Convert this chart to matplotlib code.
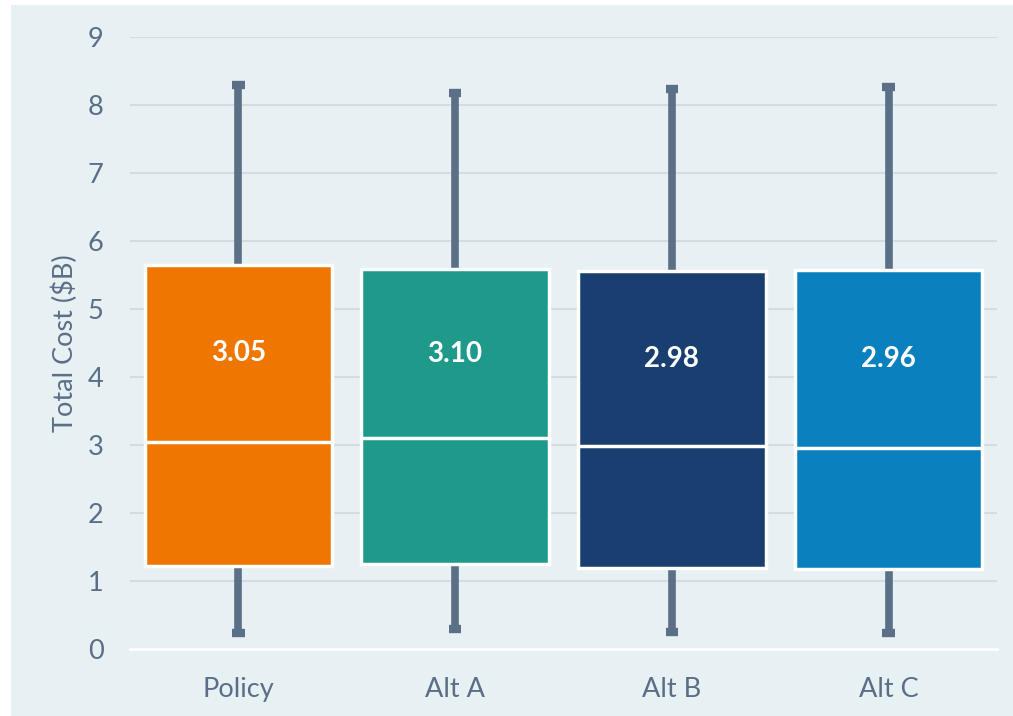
import matplotlib.pyplot as plt
from matplotlib.patches import Rectangle

# cost distribution per option, in $B
options = ['Policy', 'Alt A', 'Alt B', 'Alt C']
medians = [3.05, 3.10, 2.98, 2.96]
q1 = [1.22, 1.25, 1.19, 1.18]
q3 = [5.65, 5.59, 5.56, 5.57]
whisk_lo = [0.24, 0.29, 0.25, 0.24]
whisk_hi = [8.29, 8.18, 8.24, 8.26]
colors = ['#ee7601', '#1f998a', '#183f70', '#0b80bf']

txt = '#5a6e87'
plt.rcParams['font.family'] = ['Lato', 'DejaVu Sans']

fig = plt.figure(figsize=(10.13, 7.16), dpi=100, facecolor='white')
# light panel behind the whole chart
fig.patches.append(Rectangle((11 / 1013, 0), 1, 1 - 5 / 716, transform=fig.transFigure,
                             facecolor='#e7f0f3', edgecolor='none', zorder=-1))
ax = fig.add_axes([130 / 1013, 67 / 716, 867 / 1013, 612 / 716])
ax.set_facecolor('none')
ax.set_zorder(2)

stats = []
for i, name in enumerate(options):
    stats.append({'label': name, 'med': medians[i], 'q1': q1[i], 'q3': q3[i],
                  'whislo': whisk_lo[i], 'whishi': whisk_hi[i], 'fliers': []})

bp = ax.bxp(stats, positions=range(4), widths=0.865, patch_artist=True, showfliers=False,
            capwidths=0.058,
            boxprops=dict(edgecolor='white', linewidth=2.5),
            medianprops=dict(color='white', linewidth=2.5),
            whiskerprops=dict(color='#5b6f87', linewidth=5.5, solid_capstyle='butt'),
            capprops=dict(color='#5b6f87', linewidth=6, solid_capstyle='butt'))
for box, c in zip(bp['boxes'], colors):
    box.set_facecolor(c)
    box.set_zorder(3)
for m in bp['medians']:
    m.set_zorder(4)

# median value written in the upper half of each box
for i in range(4):
    ax.text(i, (q3[i] + medians[i]) / 2, f'{medians[i]:.2f}', ha='center', va='center',
            color='white', fontsize=20, fontweight='bold', zorder=5)

ax.set_xlim(-0.5, 3.5)
ax.set_ylim(0, 9)
ax.set_yticks(range(10))
ax.yaxis.grid(True, color='#d3dce2', linewidth=1.5)
ax.set_axisbelow(True)
for s in ['top', 'right', 'left']:
    ax.spines[s].set_visible(False)
ax.spines['bottom'].set_color('white')
ax.spines['bottom'].set_linewidth(2)
ax.spines['bottom'].set_zorder(1)
ax.tick_params(length=0, labelsize=19.5, colors=txt)
ax.tick_params(axis='y', pad=19)
ax.tick_params(axis='x', pad=20)
ax.set_ylabel('Total Cost ($B)', fontsize=19.5, color=txt, labelpad=7)

fig.savefig('out.png', dpi=100)
